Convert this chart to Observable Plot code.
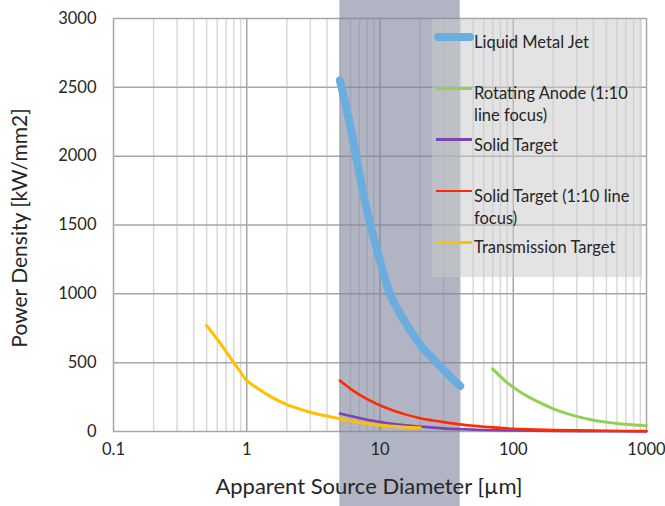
<!DOCTYPE html>
<html><head><meta charset="utf-8">
<script src="https://cdn.jsdelivr.net/npm/d3@7"></script>
<script src="https://cdn.jsdelivr.net/npm/@observablehq/plot@0.6"></script>
<style>
body{margin:0;background:#fff;font-family:Lato,sans-serif;color:#262626}
#wrap{position:relative;width:665px;height:506px;overflow:hidden}
#legend{position:absolute;left:432px;top:19px;width:210px;height:258px;background:rgba(203,203,203,0.53)}
.sw{position:absolute}
.lt{position:absolute;left:474px;width:170px;font-size:16.5px;line-height:22px;color:#262626}
</style></head>
<body><div id="wrap"></div>
<script>
// ---- data ----
const seriesNames = ["Liquid Metal Jet","Rotating Anode (1:10 line focus)","Solid Target","Solid Target (1:10 line focus)","Transmission Target"];
const seriesColors = ["#6aaddf","#92d050","#7b44b0","#ff2a00","#ffc000"];

const ljetD = [5,6,7,8,9,10,12,15,20,25,30,35,40];
const ljetP = [2550,2215,1875,1600,1400,1240,990,815,630,528,449,382,330];

const rotD = [70,80,90,100,120,150,200,250,300,400,500,600,700,800,1000];
const rotP = [455,400,355,322,270,220,165,132,110,82,68,58,52,48,42];

const solidD = [5,6,7,8,10,12,15,20,30,40,60,100,200,500,1000];
const solidP = [130,112,98,86,70,57,46,36,23,17,11,7,4,2,1];

const solid10D = [5,6,7,8,10,12,15,20,25,30,40,50,60,80,100,150,200,300,500,1000];
const solid10P = [370,310,268,235,190,160,128,97,80,68,52,42,35,26,20,14,11,8,5,3];

const transD = [0.5,0.6,0.7,0.8,0.9,1,1.2,1.5,2,3,4,5,7,10,15,20];
const transP = [770,670,580,500,430,370,315,255,195,140,112,92,65,45,33,27];

const bandRange = [5, 40];
const xTicks = [0.1, 1, 10, 100, 1000];
const xTickLabels = ["0.1","1","10","100","1000"];
const yTicks = [0,500,1000,1500,2000,2500,3000];
const yTickLabels = ["0","500","1000","1500","2000","2500","3000"];
const xTitle = "Apparent Source Diameter [\u00b5m]";
const yTitle = "Power Density [kW/mm2]";

// ---- build ----
const W = 665, H = 506, mt = 18, mb = 75, ml = 113, mr = 19;
const toRows = (D, P, s) => D.map((d, i) => ({d, p: P[i], s}));
const allSeries = [
  toRows(ljetD, ljetP, 0),
  toRows(rotD, rotP, 1),
  toRows(solidD, solidP, 2),
  toRows(solid10D, solid10P, 3),
  toRows(transD, transP, 4)
];
const widths = [8, 3, 2.6, 2.6, 3];

const gridAll = d3.scaleLog().domain([xTicks[0], xTicks[xTicks.length-1]]).ticks();
const minor = gridAll.filter(v => !xTicks.some(t => Math.abs(t - v) < 1e-9));
const perPx = (yTicks[yTicks.length-1] - yTicks[0]) / (H - mt - mb);
const bandRows = [{x1: bandRange[0], x2: bandRange[1], y1: yTicks[0] - mb*perPx, y2: yTicks[yTicks.length-1] + mt*perPx}];

const marks = [
  Plot.ruleX(minor, {stroke: "#d9d9d9", strokeWidth: 1.5}),
  Plot.ruleX(xTicks, {stroke: "#a6a6a6", strokeWidth: 1.5}),
  Plot.ruleY(yTicks, {stroke: "#a6a6a6", strokeWidth: 1.5}),
  Plot.rect(bandRows, {x1: "x1", x2: "x2", y1: "y1", y2: "y2", fill: "rgb(125,131,155)", fillOpacity: 0.6, clip: false}),
];
allSeries.forEach((rows, k) => {
  marks.push(Plot.line(rows, {x: "d", y: "p", stroke: seriesColors[k], strokeWidth: widths[k], strokeLinecap: "round", strokeLinejoin: "round", curve: "catmull-rom"}));
});
marks.push(
  Plot.axisX(xTicks, {tickSize: 0, tickPadding: 12, tickFormat: d => xTickLabels[xTicks.indexOf(d)], fontSize: 16.5, label: null, fill: "#262626"}),
  Plot.axisY(yTicks, {tickSize: 0, tickPadding: 17, tickFormat: d => yTickLabels[yTicks.indexOf(d)], fontSize: 16.5, label: null, fill: "#262626"}),
  Plot.text([xTitle], {frameAnchor: "bottom", dy: 62, dx: -11, fontSize: 22, fill: "#262626", lineAnchor: "bottom", textAnchor: "middle"}),
  Plot.text([yTitle], {frameAnchor: "left", dx: -93, dy: 3, rotate: -90, fontSize: 21, fill: "#262626", textAnchor: "middle"})
);

const chart = Plot.plot({
  width: W, height: H,
  marginTop: mt, marginBottom: mb, marginLeft: ml, marginRight: mr,
  x: {type: "log", domain: [xTicks[0], xTicks[xTicks.length-1]]},
  y: {domain: [yTicks[0], yTicks[yTicks.length-1]]},
  style: {fontFamily: "Lato, sans-serif", background: "transparent", overflow: "visible"},
  marks
});
const wrap = document.getElementById("wrap");
wrap.appendChild(chart);

// legend
const lg = document.createElement("div");
lg.id = "legend";
wrap.appendChild(lg);
seriesNames.forEach((name, i) => {
  const cy = 37 + i * 51.3;
  const w = widths[i];
  const sw = document.createElement("div");
  sw.className = "sw";
  if (i === 0) {
    sw.style.cssText = `left:434px;width:40px;top:${cy - w/2}px;height:${w}px;border-radius:${w/2}px;background:${seriesColors[i]}`;
  } else {
    sw.style.cssText = `left:436px;width:36px;top:${cy - w/2}px;height:${w}px;background:${seriesColors[i]}`;
  }
  wrap.appendChild(sw);
  const t = document.createElement("div");
  t.className = "lt";
  t.style.top = (cy - 6) + "px";
  t.textContent = name;
  wrap.appendChild(t);
});
</script></body></html>
